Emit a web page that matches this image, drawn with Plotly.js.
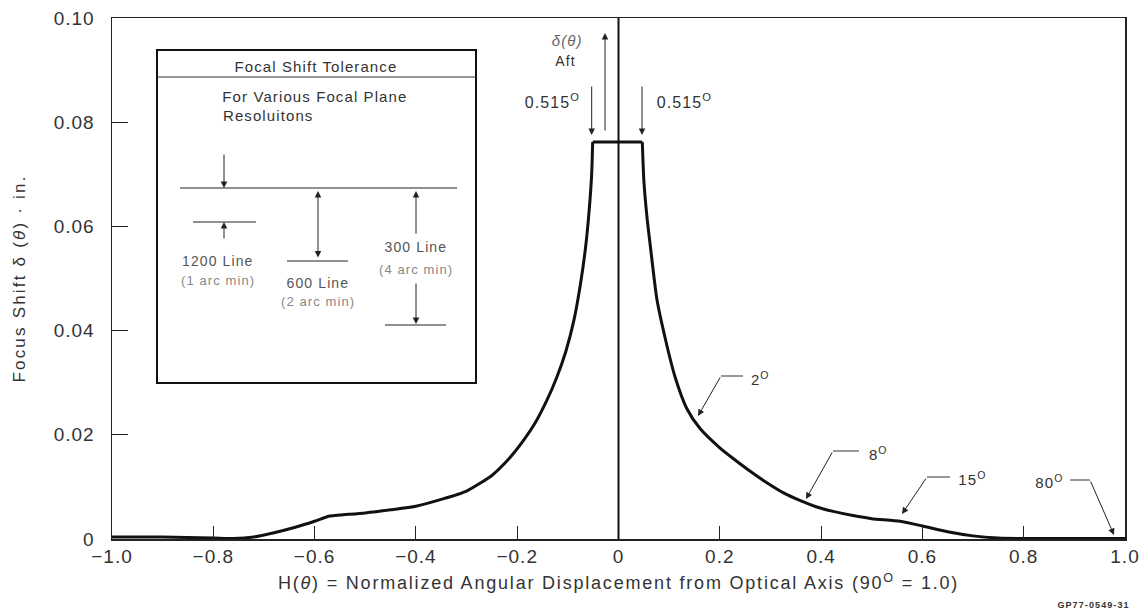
<!DOCTYPE html>
<html><head><meta charset="utf-8">
<script src="https://cdn.plot.ly/plotly-3.0.1.min.js"></script>
<style>
html,body{margin:0;padding:0;background:#fff}
#chart{width:1148px;height:612px}
#chart .xtitle{letter-spacing:1.8px}
#chart .ytitle{letter-spacing:2.2px}
#chart .annotation-text{letter-spacing:1.1px}
#chart .xtick text,#chart .ytick text{letter-spacing:1px}
</style>
</head><body><div id="chart"></div>
<script>
// ---- data ----
const leftX = [-1.0, -0.9, -0.8, -0.76, -0.72, -0.68, -0.64, -0.6, -0.57, -0.55, -0.5, -0.45, -0.4, -0.35, -0.3, -0.25, -0.22, -0.19, -0.165, -0.142, -0.122, -0.104, -0.088, -0.075, -0.065, -0.058, -0.053, -0.051];
const leftY = [0.0004, 0.0004, 0.0002, 0.0001, 0.0004, 0.0012, 0.0022, 0.0034, 0.0044, 0.0046, 0.0050, 0.0056, 0.0063, 0.0076, 0.0092, 0.0122, 0.0150, 0.0186, 0.0222, 0.0265, 0.0310, 0.0360, 0.0420, 0.0490, 0.0560, 0.0630, 0.0700, 0.0762];
const rightX = [0.047, 0.050, 0.056, 0.063, 0.076, 0.093, 0.112, 0.135, 0.161, 0.2, 0.227, 0.26, 0.293, 0.325, 0.358, 0.39, 0.424, 0.463, 0.5, 0.556, 0.6, 0.65, 0.7, 0.75, 0.8, 1.0];
const rightY = [0.0762, 0.0689, 0.0620, 0.0561, 0.0459, 0.0382, 0.0310, 0.0250, 0.0212, 0.0175, 0.0154, 0.0130, 0.0108, 0.0089, 0.0074, 0.0062, 0.0053, 0.0045, 0.0039, 0.0034, 0.0025, 0.0014, 0.0006, 0.0002, 0.0001, 0.0001];
const xTickVals = [-1.0, -0.8, -0.6, -0.4, -0.2, 0, 0.2, 0.4, 0.6, 0.8, 1.0];
const xTickText = ["\u22121.0", "\u22120.8", "\u22120.6", "\u22120.4", "\u22120.2", "0", "0.2", "0.4", "0.6", "0.8", "1.0"];
const yTickVals = [0, 0.02, 0.04, 0.06, 0.08, 0.10];
const yTickText = ["0", "0.02", "0.04", "0.06", "0.08", "0.10"];
const angleLabels = ["2", "8", "15", "80"];

// ---- layout helpers (pixel -> data) ----
const L = 112, T = 18, W = 1013, H = 521;
const X = px => -1 + (px - L) / W * 2;
const Y = py => 0.1 * (1 - (py - T) / H);
const FONT = '"Liberation Sans", Arial, sans-serif';

const shapes = [];
function seg(x0, y0, x1, y1, w, c) {
  shapes.push({type: 'line', xref: 'x', yref: 'y', x0: X(x0), y0: Y(y0), x1: X(x1), y1: Y(y1),
    line: {color: c || '#1a1a1a', width: w || 1}});
}
// center vertical line
shapes.push({type: 'line', xref: 'x', yref: 'y', x0: 0, x1: 0, y0: 0, y1: 0.1, line: {color: '#111', width: 2}});
// inset box
shapes.push({type: 'rect', xref: 'x', yref: 'y', x0: X(157), y0: Y(50), x1: X(476), y1: Y(383),
  line: {color: '#111', width: 2}, fillcolor: 'rgba(255,255,255,0)'});
seg(157, 77, 476, 77, 1, '#333');
seg(180, 188, 457, 188, 1.2, '#222');
seg(193, 222, 256, 222, 1.2, '#222');
seg(287, 261, 348, 261, 1.2, '#222');
seg(385, 325, 446, 325, 1.2, '#222');
// leaders horizontal parts
seg(743, 376, 721, 376, 1, '#333');
seg(859, 451, 833, 451, 1, '#333');
seg(950, 477, 927, 477, 1, '#333');
seg(1070, 480, 1090, 480, 1, '#333');

const ann = [];
function arrow(tx, ty, fx, fy, both) {
  ann.push({x: X(tx), y: Y(ty), ax: X(fx), ay: Y(fy), xref: 'x', yref: 'y', axref: 'x', ayref: 'y',
    text: '', showarrow: true, arrowhead: 2, arrowsize: 1.3, arrowwidth: 1, arrowcolor: '#222',
    arrowside: both ? 'end+start' : 'end'});
}
function txt(px, py, s, size, color, anchor) {
  ann.push({x: X(px), y: Y(py), xref: 'x', yref: 'y', text: s, showarrow: false,
    xanchor: anchor || 'center', yanchor: 'middle',
    font: {family: FONT, size: size || 15, color: color || '#333'}});
}
// top arrows
arrow(605, 33, 605, 132);
arrow(591.7, 135, 591.7, 85);
arrow(642, 135, 642, 85);
txt(567, 40, '<i>\u03b4(\u03b8)</i>', 15, '#666');
txt(565, 61, 'Aft', 14, '#333');
txt(552, 101, '0.515<sup>O</sup>', 16, '#333');
txt(684, 101, '0.515<sup>O</sup>', 16, '#333');
// angle leaders
arrow(698, 416, 721, 376);
arrow(806, 499, 833, 451);
arrow(902, 514, 927, 477);
arrow(1114, 535, 1090, 480);
txt(760, 378, angleLabels[0] + '<sup>O</sup>', 15, '#333');
txt(878, 453, angleLabels[1] + '<sup>O</sup>', 15, '#333');
txt(972, 478, angleLabels[2] + '<sup>O</sup>', 15, '#333');
txt(1049, 481, angleLabels[3] + '<sup>O</sup>', 15, '#333');
// inset texts & arrows
txt(316, 66, 'Focal Shift Tolerance', 15, '#333');
txt(233, 96, 'For Various Focal Plane', 15, '#333', 'left');
txt(227, 115, 'Resoluitons', 15, '#333', 'left');
arrow(224, 188, 224, 153);
arrow(224, 222, 224, 240);
arrow(318, 191, 318, 259, true);
arrow(416, 191, 416, 235);
arrow(416, 324, 416, 282);
txt(218, 261, '1200 Line', 14, '#555');
txt(218, 280, '(1 arc min)', 13, '#888');
txt(318, 283, '600 Line', 14, '#555');
txt(318, 301, '(2 arc min)', 13, '#888');
txt(416, 247, '300 Line', 14, '#555');
txt(416, 269, '(4 arc min)', 13, '#888');
// footer id
ann.push({xref: 'paper', yref: 'paper', x: 1.0, y: 0, yshift: -66, xanchor: 'right', yanchor: 'middle',
  text: '<b>GP77-0549-31</b>', showarrow: false, font: {family: FONT, size: 9, color: '#333'}});

const lineStyle = {color: '#111', width: 3};
const traces = [
  {x: leftX, y: leftY, type: 'scatter', mode: 'lines', line: Object.assign({shape: 'spline', smoothing: 0.6}, lineStyle), hoverinfo: 'skip'},
  {x: [leftX[leftX.length - 1], rightX[0]], y: [leftY[leftY.length - 1], rightY[0]], type: 'scatter', mode: 'lines', line: lineStyle, hoverinfo: 'skip'},
  {x: rightX, y: rightY, type: 'scatter', mode: 'lines', line: Object.assign({shape: 'spline', smoothing: 0.6}, lineStyle), hoverinfo: 'skip'}
];

const layout = {
  width: 1148, height: 612,
  margin: {l: L, r: 1148 - L - W, t: T, b: 612 - T - H},
  paper_bgcolor: '#fff', plot_bgcolor: '#fff',
  showlegend: false,
  font: {family: FONT, color: '#333'},
  xaxis: {range: [-1, 1], tickvals: xTickVals, ticktext: xTickText, ticks: 'inside', ticklen: 13,
    tickwidth: 1, tickcolor: '#222', showline: true, linecolor: '#222', linewidth: 1.5, mirror: true,
    showgrid: false, zeroline: false, tickfont: {family: FONT, size: 19, color: '#333'},
    title: {text: 'H(<i>\u03b8</i>) = Normalized Angular Displacement from Optical Axis (90<sup>O</sup> = 1.0)',
      font: {family: FONT, size: 18, color: '#333'}, standoff: 10}},
  yaxis: {range: [0, 0.1], tickvals: yTickVals, ticktext: yTickText, ticks: 'inside', ticklen: 16,
    tickwidth: 1, tickcolor: '#222', showline: true, linecolor: '#222', linewidth: 1.5, mirror: true,
    showgrid: false, zeroline: false, tickfont: {family: FONT, size: 19, color: '#333'},
    ticklabelstandoff: 12,
    title: {text: 'Focus Shift \u03b4 (<i>\u03b8</i>) \u00b7 in.', font: {family: FONT, size: 17, color: '#333'}, standoff: 28}},
  shapes: shapes,
  annotations: ann
};
Plotly.newPlot('chart', traces, layout, {displayModeBar: false, staticPlot: true});
</script></body></html>
